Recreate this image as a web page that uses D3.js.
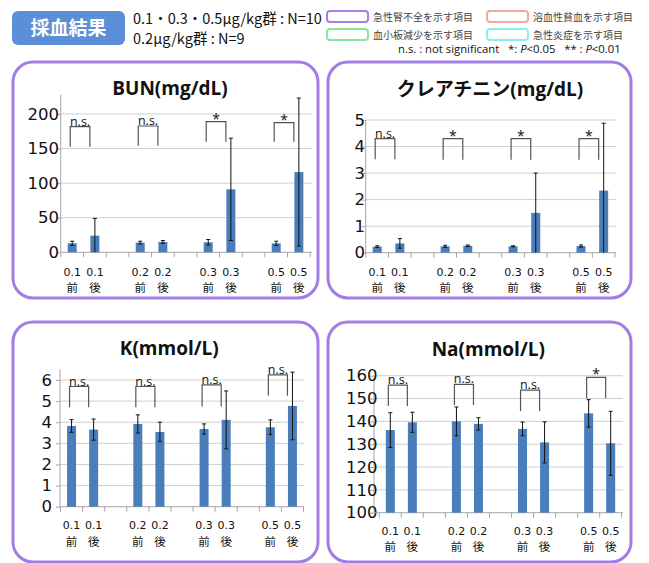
<!DOCTYPE html>
<html>
<head>
<meta charset="utf-8">
<script src="https://cdn.jsdelivr.net/npm/d3@7/dist/d3.min.js"></script>
<style>
  body { margin: 0; background: #fff; }
  svg { display: block; }
</style>
</head>
<body>
<svg id="chart" width="649" height="563"></svg>
<script>
// ---- data ----------------------------------------------------------
const doses  = ["0.1", "0.2", "0.3", "0.5"];
const phases = ["前", "後"];

// mean and SD per bar, ordered 0.1前, 0.1後, 0.2前, 0.2後, ...
const bunMean = [13, 24, 14, 15, 14.5, 91, 13, 116];
const bunSD   = [3, 25, 2, 2, 4, 74, 3, 107];
const creMean = [0.23, 0.35, 0.24, 0.26, 0.24, 1.50, 0.25, 2.34];
const creSD   = [0.03, 0.18, 0.04, 0.03, 0.02, 1.50, 0.04, 2.54];
const kMean   = [3.82, 3.65, 3.92, 3.54, 3.68, 4.11, 3.76, 4.77];
const kSD     = [0.30, 0.50, 0.43, 0.46, 0.24, 1.37, 0.35, 1.60];
const naMean  = [136.2, 139.6, 140.0, 138.9, 136.7, 130.8, 143.5, 130.4];
const naSD    = [7.6, 4.4, 6.3, 2.7, 3.0, 9.0, 6.0, 14.0];

// y tick values
const bunTicks = [0, 50, 100, 150, 200];
const creTicks = [0, 1, 2, 3, 4, 5];
const kTicks   = [0, 1, 2, 3, 4, 5, 6];
const naTicks  = [100, 110, 120, 130, 140, 150, 160];

// significance brackets per dose: label, top level, foot level (data units)
const bunSig = ["n.s.", "n.s.", "*", "*"];
const bunSigTop = [181.6, 182.6, 189, 187.4];
const bunSigFoot = [152.7, 154, 160, 160];
const creSig = ["n.s.", "*", "*", "*"];
const creSigTop = [4.3, 4.3, 4.3, 4.3];
const creSigFoot = [3.52, 3.5, 3.5, 3.5];
const kSig = ["n.s.", "n.s.", "n.s.", "n.s."];
const kSigTop = [5.69, 5.69, 5.77, 6.24];
const kSigFoot = [4.71, 4.71, 4.74, 5.25];
const naSig = ["n.s.", "n.s.", "n.s.", "*"];
const naSigTop = [155.9, 156.2, 153.7, 159.3];
const naSigFoot = [146.7, 147.2, 144.5, 150.1];

// legend entries
const legendItems = [
  { text: "急性腎不全を示す項目", color: "#a47fe6" },
  { text: "溶血性貧血を示す項目", color: "#f4aa9b" },
  { text: "血小板減少を示す項目", color: "#86e79d" },
  { text: "急性炎症を示す項目",   color: "#86eef4" }
];

// ---- layout --------------------------------------------------------
const BAR = "#4a7ebb";
const BORDER = "#a27de6";
const GRID = "#cfcfcf";
const AXIS = "#a6a6a6";
const NUM_FONT = "'DejaVu Sans', sans-serif";
const JP_FONT = "'Noto Sans CJK JP', sans-serif";
const TITLE_FONT = "'Open Sans', 'Noto Sans CJK JP', sans-serif";

const panels = [
  { title: "BUN(mg/dL)", mean: bunMean, sd: bunSD, ticks: bunTicks,
    sig: bunSig, sigTop: bunSigTop, sigFoot: bunSigFoot,
    domain: [0, 228], box: [13, 62, 318, 298], axisX: 60.7, xr: [60.9, 310.2],
    yr: [252.3, 94.6], gridEnd: 312, labelRight: 51, titleX: 170, titleY: 95,
    lab1: 23.5, lab2: 39.5 },
  { title: "クレアチニン(mg/dL)", mean: creMean, sd: creSD, ticks: creTicks,
    sig: creSig, sigTop: creSigTop, sigFoot: creSigFoot,
    domain: [0, 5], box: [328, 62, 631, 298], axisX: 365.7, xr: [365.9, 615],
    yr: [252.7, 120], gridEnd: 616, labelRight: 357, titleX: 490, titleY: 96,
    lab1: 23, lab2: 39.5 },
  { title: "K(mmol/L)", mean: kMean, sd: kSD, ticks: kTicks,
    sig: kSig, sigTop: kSigTop, sigFoot: kSigFoot,
    domain: [0, 6.5], box: [13, 322, 318, 562], axisX: 60, xr: [60.5, 303.5],
    yr: [506.7, 369.4], gridEnd: 304, labelRight: 44, titleX: 169.3, titleY: 355,
    lab1: 22, lab2: 39.5 },
  { title: "Na(mmol/L)", mean: naMean, sd: naSD, ticks: naTicks,
    sig: naSig, sigTop: naSigTop, sigFoot: naSigFoot,
    domain: [100, 160], box: [328, 322, 631, 562], axisX: 374, xr: [379.3, 621.7],
    yr: [512.7, 375.7], gridEnd: 623, labelRight: 369.5, titleX: 488.3, titleY: 356,
    lab1: 22.5, lab2: 38.5 }
];

// category slots: 前, 後, then an empty spacer between dose groups
const slots = [];
doses.forEach((d, i) => {
  phases.forEach(p => slots.push({ key: d + p, dose: d, phase: p }));
  if (i < doses.length - 1) slots.push({ key: "gap" + i, gap: true });
});
const barSlots = slots.filter(s => !s.gap);

const svg = d3.select("#chart");

// ---- header --------------------------------------------------------
svg.append("rect").attr("x", 12).attr("y", 11).attr("width", 113).attr("height", 34)
  .attr("rx", 6).attr("fill", "#5b8fd7");
svg.append("text").attr("x", 68.5).attr("y", 35).attr("text-anchor", "middle")
  .attr("font-family", JP_FONT).attr("font-weight", "bold").attr("font-size", 19)
  .attr("fill", "#fff").text("採血結果");

const hdr = svg.append("g").attr("font-family", JP_FONT).attr("font-size", 14.5).attr("fill", "#111");
hdr.append("text").attr("x", 133).attr("y", 24).text("0.1・0.3・0.5μg/kg群 : N=10");
hdr.append("text").attr("x", 133).attr("y", 44).text("0.2μg/kg群 : N=9");

// legend boxes
const legPos = [[327, 11], [487, 11], [327, 29], [487, 29]];
legendItems.forEach((it, i) => {
  const [lx, ly] = legPos[i];
  svg.append("rect").attr("x", lx).attr("y", ly).attr("width", 41).attr("height", 11)
    .attr("rx", 3).attr("fill", "#fff").attr("stroke", it.color).attr("stroke-width", 2);
  svg.append("text").attr("x", lx + 46).attr("y", ly + 9.5)
    .attr("font-family", JP_FONT).attr("font-size", 10).attr("fill", "#444").text(it.text);
});
const note = svg.append("text").attr("x", 398).attr("y", 53)
  .attr("font-family", "'Open Sans', sans-serif").attr("font-size", 11.3).attr("fill", "#111")
  .attr("xml:space", "preserve");
note.append("tspan").text("n.s. : not significant   *: ");
note.append("tspan").attr("font-style", "italic").text("P");
note.append("tspan").text("<0.05   ** : ");
note.append("tspan").attr("font-style", "italic").text("P");
note.append("tspan").text("<0.01");

// ---- panels --------------------------------------------------------
panels.forEach(p => {
  const g = svg.append("g");
  const [bx0, by0, bx1, by1] = p.box;
  g.append("rect").attr("x", bx0).attr("y", by0).attr("width", bx1 - bx0).attr("height", by1 - by0)
    .attr("rx", 20).attr("fill", "#fff").attr("stroke", BORDER).attr("stroke-width", 3);

  g.append("text").attr("x", p.titleX).attr("y", p.titleY).attr("text-anchor", "middle")
    .attr("font-family", TITLE_FONT).attr("font-weight", "bold").attr("font-size", 19)
    .attr("fill", "#111").text(p.title);

  const x = d3.scaleBand().domain(slots.map(s => s.key)).range(p.xr).padding(0);
  const y = d3.scaleLinear().domain(p.domain).range(p.yr);
  const base = y(p.domain[0]);

  // horizontal gridlines
  g.append("g").selectAll("line").data(p.ticks.filter(t => t !== p.domain[0])).join("line")
    .attr("x1", p.axisX).attr("x2", p.gridEnd).attr("y1", d => y(d)).attr("y2", d => y(d))
    .attr("stroke", GRID).attr("stroke-width", 1);

  // y axis with labels
  const yAxis = g.append("g").attr("transform", `translate(${p.axisX},0)`)
    .call(d3.axisLeft(y).tickValues(p.ticks).tickSize(4).tickPadding(p.axisX - 4 - p.labelRight - 4)
      .tickFormat(d3.format("d")));
  yAxis.select(".domain").attr("stroke", AXIS).attr("d", `M-0,${p.yr[0]}V${p.yr[1]}`);
  yAxis.selectAll(".tick line").attr("stroke", AXIS);
  yAxis.selectAll(".tick text").attr("font-family", NUM_FONT).attr("font-size", 16.5)
    .attr("fill", "#111").attr("dx", 4);

  // x axis baseline and slot boundary ticks
  g.append("line").attr("x1", p.axisX).attr("x2", p.gridEnd).attr("y1", base).attr("y2", base)
    .attr("stroke", AXIS);
  const bounds = d3.range(slots.length + 1).map(i => p.xr[0] + i * x.step());
  g.append("g").selectAll("line").data(bounds).join("line")
    .attr("x1", d => d).attr("x2", d => d).attr("y1", base).attr("y2", base + 5)
    .attr("stroke", AXIS);

  // category labels: dose and 前/後
  const labs = g.append("g").attr("fill", "#111");
  labs.selectAll("text.dose").data(barSlots).join("text").attr("class", "dose")
    .attr("x", s => x(s.key) + x.bandwidth() / 2).attr("y", base + p.lab1)
    .attr("text-anchor", "middle").attr("font-family", NUM_FONT).attr("font-size", 11)
    .text(s => s.dose);
  labs.selectAll("text.phase").data(barSlots).join("text").attr("class", "phase")
    .attr("x", s => x(s.key) + x.bandwidth() / 2).attr("y", base + p.lab2)
    .attr("text-anchor", "middle").attr("font-family", JP_FONT).attr("font-size", 11.5)
    .text(s => s.phase);

  // bars
  const barW = 9;
  const cx = i => x(barSlots[i].key) + x.bandwidth() / 2;
  g.append("g").selectAll("rect").data(p.mean).join("rect")
    .attr("x", (d, i) => cx(i) - barW / 2).attr("width", barW)
    .attr("y", d => y(d)).attr("height", d => base - y(d))
    .attr("fill", BAR);

  // error bars (clipped at the axis minimum)
  const eb = g.append("g").attr("stroke", "#111").attr("stroke-width", 1);
  p.mean.forEach((m, i) => {
    const hi = y(m + p.sd[i]);
    const loV = m - p.sd[i];
    const lo = y(Math.max(loV, p.domain[0]));
    const c = cx(i);
    eb.append("line").attr("x1", c).attr("x2", c).attr("y1", hi).attr("y2", lo);
    eb.append("line").attr("x1", c - 2).attr("x2", c + 2).attr("y1", hi).attr("y2", hi);
    if (loV > p.domain[0]) eb.append("line").attr("x1", c - 2).attr("x2", c + 2).attr("y1", lo).attr("y2", lo);
  });

  // significance brackets
  const br = g.append("g");
  doses.forEach((d, k) => {
    const xl = cx(2 * k) - 2, xr = cx(2 * k + 1) - 5;
    const yt = y(p.sigTop[k]), yf = y(p.sigFoot[k]);
    br.append("path").attr("d", `M${xl},${yf}V${yt}H${xr}V${yf}`)
      .attr("fill", "none").attr("stroke", "#555").attr("stroke-width", 1.2);
    const isStar = p.sig[k] === "*";
    br.append("text").attr("x", (xl + xr) / 2).attr("y", isStar ? yt + 2 : yt - 1)
      .attr("text-anchor", "middle").attr("font-family", "'Open Sans', sans-serif")
      .attr("font-size", isStar ? 14 : 12.5).attr("fill", "#111").text(p.sig[k]);
  });
});
</script>
</body>
</html>
